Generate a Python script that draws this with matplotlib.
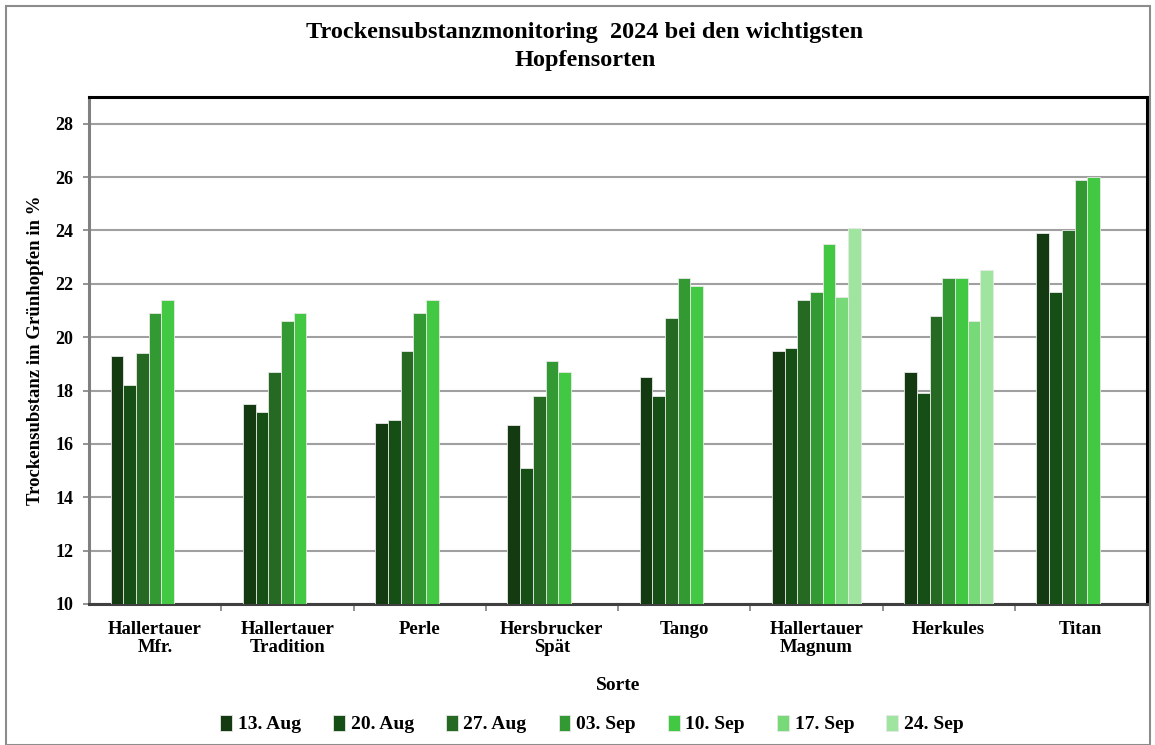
import numpy as np
import matplotlib.pyplot as plt
from matplotlib.patches import Rectangle

# *****************************************************************************

SORTEN = ['Hallertauer\nMfr.', 'Hallertauer\nTradition', 'Perle',
          'Hersbrucker\nSpät', 'Tango', 'Hallertauer\nMagnum', 'Herkules',
          'Titan']

DATES = ['13. Aug', '20. Aug', '27. Aug', '03. Sep', '10. Sep', '17. Sep',
         '24. Sep']

COLORS = ['#143a12', '#154f15', '#256922', '#339933', '#42c842', '#77d977',
          '#9fe59f']

nan = np.nan
# one list per date, one value per Sorte
AUG13 = [19.3, 17.5, 16.8, 16.7, 18.5, 19.5, 18.7, 23.9]
AUG20 = [18.2, 17.2, 16.9, 15.1, 17.8, 19.6, 17.9, 21.7]
AUG27 = [19.4, 18.7, 19.5, 17.8, 20.7, 21.4, 20.8, 24.0]
SEP03 = [20.9, 20.6, 20.9, 19.1, 22.2, 21.7, 22.2, 25.9]
SEP10 = [21.4, 20.9, 21.4, 18.7, 21.9, 23.5, 22.2, 26.0]
SEP17 = [nan, nan, nan, nan, nan, 21.5, 20.6, nan]
SEP24 = [nan, nan, nan, nan, nan, 24.1, 22.5, nan]

SERIES = [AUG13, AUG20, AUG27, SEP03, SEP10, SEP17, SEP24]

# *****************************************************************************


def make_fig():

    fig01 = plt.figure(figsize=(11.55, 7.45), dpi=100)
    plt.rcParams['font.family'] = ['Liberation Serif', 'DejaVu Serif']
    plt.rcParams['font.weight'] = 'bold'

    # outer frame
    fig01.patches.append(Rectangle((6/1155, 0.0), 1144/1155, 739/745,
                                   transform=fig01.transFigure, fill=False,
                                   edgecolor='#8c8c8c', lw=1.5))

    axs01 = fig01.add_axes([89/1155, 141/745, 1058/1155, 507/745])

    xloc = np.arange(len(SORTEN))
    nser = len(SERIES)
    bw = 0.096
    for k1 in range(nser):
        offs = (k1 - (nser-1)/2.0)*bw
        vals = np.array(SERIES[k1], dtype=float)
        axs01.bar(xloc+offs, vals-10, bottom=10, width=bw, color=COLORS[k1],
                  edgecolor='#e8e8e8', linewidth=0.6, label=DATES[k1],
                  zorder=3)

    axs01.set_xlim(-0.5, len(SORTEN)-0.5)
    axs01.set_ylim(10, 29)
    axs01.set_yticks(np.arange(10, 29, 2))
    axs01.yaxis.grid(True, color='#a0a0a0', lw=1.5, zorder=0)

    axs01.set_xticks(xloc)
    axs01.set_xticklabels(SORTEN, fontsize=13.5, fontweight='bold',
                          linespacing=1.1)
    axs01.tick_params(axis='x', length=0, pad=12)
    axs01.set_xticks(np.arange(0.5, len(SORTEN)-0.5, 1.0), minor=True)
    axs01.tick_params(axis='x', which='minor', length=5, width=1.2,
                      color='#808080', direction='out')
    axs01.tick_params(axis='y', labelsize=13, length=4.5, width=1.2,
                      color='#808080', pad=7)
    for lab in axs01.get_yticklabels():
        lab.set_fontweight('bold')

    for side in ['top', 'right']:
        axs01.spines[side].set_color('black')
        axs01.spines[side].set_linewidth(2.2)
    axs01.spines['left'].set_color('#808080')
    axs01.spines['left'].set_linewidth(2.2)
    axs01.spines['bottom'].set_color('#404040')
    axs01.spines['bottom'].set_linewidth(2.2)

    axs01.set_ylabel('Trockensubstanz im Grünhopfen in %', fontsize=13.5,
                     fontweight='bold', labelpad=8)
    axs01.set_xlabel('Sorte', fontsize=14, fontweight='bold', labelpad=15)

    fig01.suptitle('Trockensubstanzmonitoring  2024 bei den wichtigsten\n'
                   'Hopfensorten', x=585/1155, y=0.97, fontsize=17.5,
                   fontweight='bold', linespacing=1.4)

    axs01.legend(loc='center', bbox_to_anchor=(592/1155, 21/745),
                 bbox_transform=fig01.transFigure, ncol=7,
                 frameon=False, prop={'size': 14, 'weight': 'bold'},
                 handlelength=0.6, handleheight=0.9, handletextpad=0.3,
                 columnspacing=1.65)

    plt.savefig('out.png', dpi=100)
    plt.close()

    return None

# *****************************************************************************


if (__name__ == "__main__"):

    make_fig()

# *****************************************************************************
